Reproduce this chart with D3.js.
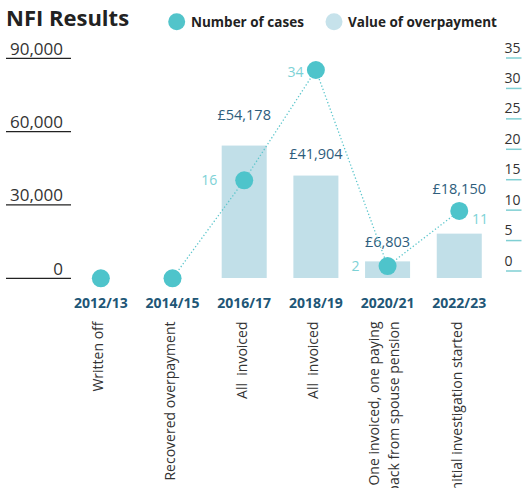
<!DOCTYPE html>
<html><head><meta charset="utf-8">
<script src="https://cdn.jsdelivr.net/npm/d3@7"></script>
<style>
html,body{margin:0;padding:0;background:#fff;overflow:hidden}
svg{display:block;font-family:"Open Sans",sans-serif}
</style></head>
<body>
<svg id="c" width="522" height="488"></svg>
<script>
const years = ["2012/13","2014/15","2016/17","2018/19","2020/21","2022/23"];
const outcomes = [["Written off"],["Recovered overpayment"],["All  invoiced"],["All  invoiced"],["One invoiced, one paying","back from spouse pension"],["Initial investigation started"]];
const overpayment = [0,0,54178,41904,6803,18150];
const overpaymentLabels = [null,null,"£54,178","£41,904","£6,803","£18,150"];
const cases = [0,0,16,34,2,11];
const leftTicks = [0,30000,60000,90000];
const rightTicks = [0,5,10,15,20,25,30,35];

const svg = d3.select("#c");
const teal = "#52c4ca", light = "#c1dfe8", navy = "#215676";

const x = d3.scaleBand().domain(years).range([65,495.1]).paddingInner(0.372).paddingOuter(0.186);
const yL = d3.scaleLinear().domain([0,90000]).range([278,58]);
const yC = d3.scaleLinear().domain([0,34]).range([278.3,70]);
const yR = d3.scaleLinear().domain([0,35]).range([271,58]);
const cx = d => x(d) + x.bandwidth()/2;

// title & legend
svg.append("text").attr("x",6).attr("y",26).attr("font-size",22).attr("font-weight",700).attr("fill","#222").text("NFI Results");
svg.append("circle").attr("cx",176.7).attr("cy",21.7).attr("r",8.5).attr("fill",teal);
svg.append("text").attr("x",191).attr("y",26.5).attr("font-size",13.5).attr("font-weight",700).attr("fill","#222").text("Number of cases");
svg.append("circle").attr("cx",334).attr("cy",21.7).attr("r",8.5).attr("fill","#c6e2eb");
svg.append("text").attr("x",348).attr("y",26.5).attr("font-size",13.5).attr("font-weight",700).attr("fill","#222").text("Value of overpayment");

// left axis
const la = svg.append("g");
leftTicks.forEach(t => {
  la.append("line").attr("x1",6).attr("x2",71).attr("y1",yL(t)+0.3).attr("y2",yL(t)+0.3).attr("stroke","#222").attr("stroke-width",1.2);
  la.append("text").attr("x",63).attr("y",yL(t)-3.5).attr("text-anchor","end").attr("font-size",17).attr("fill","#333").text(d3.format(",")(t));
});

// right axis
const ra = svg.append("g");
rightTicks.forEach(t => {
  ra.append("line").attr("x1",506).attr("x2",521.5).attr("y1",yR(t)).attr("y2",yR(t)).attr("stroke","#7fcfd3").attr("stroke-width",1.5);
  ra.append("text").attr("x",504.5).attr("y",yR(t)-5.5).attr("font-size",14).attr("fill","#333").text(t);
});

// bars
svg.append("g").selectAll("rect").data(years).join("rect")
  .attr("x",d=>x(d)).attr("width",x.bandwidth())
  .attr("y",(d,i)=>yL(overpayment[i])).attr("height",(d,i)=>yL(0)-yL(overpayment[i]))
  .attr("fill",light);

// bar value labels
const lift = [0,0,26,17,14,0];
svg.append("g").selectAll("text").data(years).join("text")
  .filter((d,i)=>overpaymentLabels[i])
  .attr("x",d=>cx(d))
  .attr("y",d=>{const i=years.indexOf(d); return i===5 ? yC(cases[i])-16.5 : yL(overpayment[i])-lift[i];})
  .attr("text-anchor","middle").attr("font-size",14.5).attr("fill","#2d5d7c")
  .text(d=>overpaymentLabels[years.indexOf(d)]);

// dotted line (from 2014/15 onward)
const line = d3.line().x(d=>cx(d)).y(d=>yC(cases[years.indexOf(d)]));
svg.append("path").datum(years.slice(1)).attr("d",line).attr("fill","none")
  .attr("stroke","#5cc6cc").attr("stroke-width",1.3).attr("stroke-dasharray","1.3,2.2");

// dots
svg.append("g").selectAll("circle").data(years).join("circle")
  .attr("cx",d=>cx(d)).attr("cy",(d,i)=>yC(cases[i])).attr("r",9).attr("fill","#4ec4cb");

// case labels
const caseLab = [null,null,{dx:-27,dy:5,a:"end"},{dx:-12.5,dy:6.5,a:"end"},{dx:-28,dy:5,a:"end"},{dx:12.7,dy:13,a:"start"}];
years.forEach((d,i)=>{
  const o = caseLab[i]; if(!o) return;
  svg.append("text").attr("x",cx(d)+o.dx).attr("y",yC(cases[i])+o.dy).attr("text-anchor",o.a)
    .attr("font-size",14).attr("fill","#7dd2d6").text(cases[i]);
});

// year labels
svg.append("g").selectAll("text").data(years).join("text")
  .attr("x",d=>cx(d)).attr("y",307.5).attr("text-anchor","middle")
  .attr("font-size",14).attr("font-weight",700).attr("fill",navy).text(d=>d);

// rotated outcome labels
years.forEach((d,i)=>{
  const lines = outcomes[i];
  const g = svg.append("g").attr("transform",`translate(${cx(d)-2.5},321.5) rotate(-90)`);
  lines.forEach((l,j)=>{
    const off = lines.length===1 ? 0.35 : (j===0 ? -0.45 : 1.0);
    g.append("text").attr("x",0).attr("y",0).attr("dy",off+"em").attr("text-anchor","end")
      .style("white-space","pre")
      .attr("font-size",14).attr("fill","#333").text(l);
  });
});
</script>
</body></html>
